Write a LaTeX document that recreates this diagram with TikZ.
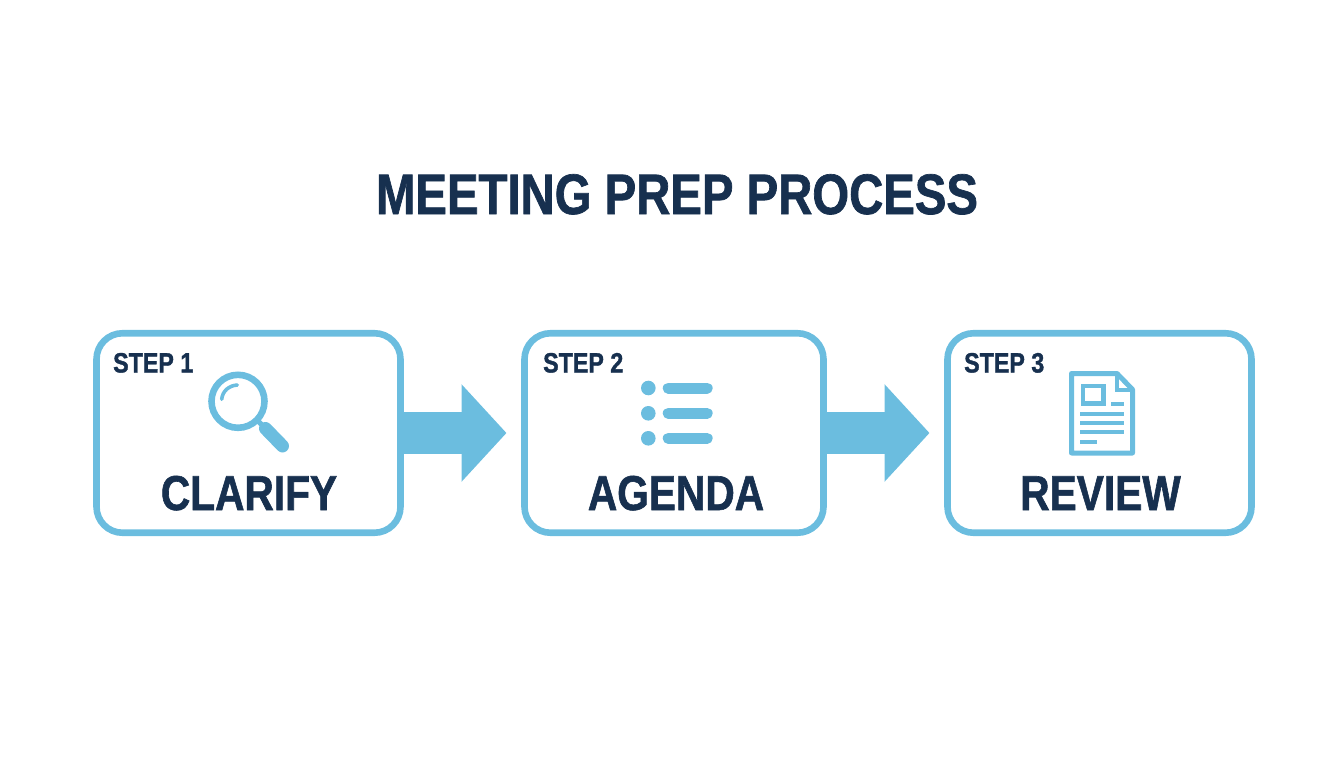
\documentclass[tikz,border=0pt]{standalone}
\usepackage{fontspec}
\setmainfont{Liberation Sans}[FakeStretch=0.83,BoldFeatures={FakeStretch=0.83,FakeBold=1.2}]
\usepackage{tikz}
\usetikzlibrary{arrows.meta}
\definecolor{skyline}{HTML}{6BBDDF}
\definecolor{navyink}{HTML}{17304F}

\begin{document}
\begin{tikzpicture}[x=1pt,y=-1pt,node distance=425.5pt,
  step box/.style={draw=skyline,line width=6.6pt,rounded corners=26pt,
    minimum width=304pt,minimum height=199.5pt,inner sep=0pt},
  step tag/.style={anchor=base west,inner sep=0pt,text=navyink,font=\fontsize{28}{28}\selectfont\bfseries},
  step name/.style={anchor=base,inner sep=0pt,text=navyink,font=\fontsize{49}{49}\selectfont\bfseries},
  flow/.style={color=skyline,line width=42.7pt,shorten >=14.7pt,-{Triangle[length=45pt,width=95pt]}},
  icon line/.style={draw=skyline,line width=4pt}]

  \useasboundingbox (0,0) rectangle (1344,768);

  \node[anchor=base,inner sep=0pt,text=navyink,font=\fontsize{57}{57}\selectfont\bfseries] (title) at (677,214) {MEETING PREP PROCESS};

  \node[step box] (clarify) at (248.5,433) {};
  \node[step box] (agenda) [right of=clarify,minimum width=299pt] {};
  \node[step box] (review) [right of=agenda] {};

  \path[flow]
    (clarify) edge (agenda)
    (agenda) edge (review);

  \node[step tag] (tag1) at (113,372.5) {STEP 1};
  \node[step tag] (tag2) at (543,372.5) {STEP 2};
  \node[step tag] (tag3) at (964,372.5) {STEP 3};

  \node[step name] (name1) at (249,510) {CLARIFY};
  \node[step name] (name2) at (676,510) {AGENDA};
  \node[step name] (name3) at (1100.5,510) {REVIEW};

  % magnifier
  \draw[skyline,line width=6.6pt] (238,401.3) circle (26.5);
  \draw[skyline,line width=5pt] (257,420) -- (266,429);
  \draw[skyline,line width=13pt,line cap=round] (265.5,428.5) -- (282.5,446);
  \draw[skyline,line width=3.6pt,line cap=round] (221.7,399.3) .. controls (222.5,391) and (229,385.5) .. (237.3,385);

  % list
  \fill[skyline] (648.3,388) circle (7.3) (648.3,413.3) circle (7.3) (648.3,438.3) circle (7.3);
  \draw[skyline,line width=11pt,line cap=round]
    (668.2,388) -- (707.2,388)
    (668.2,413.3) -- (707.2,413.3)
    (668.2,438.3) -- (707.2,438.3);

  % document
  \draw[skyline,line width=5pt,line join=round] (1071.5,373.5) -- (1117,373.5) -- (1132.5,389.5) -- (1132.5,453) -- (1071.5,453) -- cycle;
  \draw[icon line] (1117,374) -- (1117,390) -- (1132.5,390);
  \draw[icon line,line width=4.5pt] (1083,386.2) rectangle (1103.5,403.5);
  \draw[icon line]
    (1111,404) -- (1123.5,404)
    (1080.3,413.7) -- (1123.7,413.7)
    (1080.3,423) -- (1123.7,423)
    (1080.3,432.3) -- (1123.7,432.3)
    (1080.3,441.7) -- (1097,441.7);

\end{tikzpicture}
\end{document}
